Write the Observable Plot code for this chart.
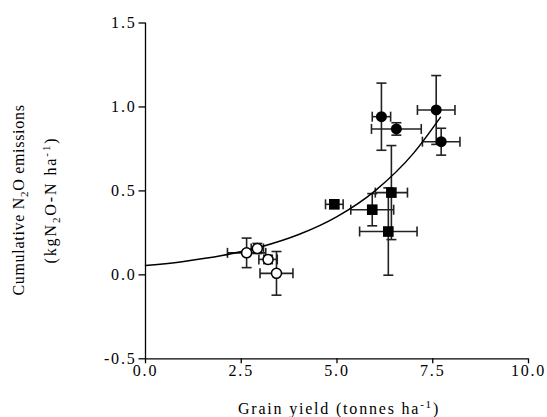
<!DOCTYPE html>
<html>
<head>
<meta charset="utf-8">
<script src="https://cdn.jsdelivr.net/npm/d3@7"></script>
<script src="https://cdn.jsdelivr.net/npm/@observablehq/plot@0.6"></script>
<style>
  html, body { margin: 0; padding: 0; background: white; }
</style>
</head>
<body>
<div id="chart"></div>
<script>
// Tick values
const xTicks = [0, 2.5, 5, 7.5, 10];
const yTicks = [-0.5, 0, 0.5, 1, 1.5];

// Open circles
const openX = [2.64, 2.92, 3.20, 3.42];
const openY = [0.131, 0.157, 0.092, 0.009];
const openXErr = [0.50, 0.16, 0.24, 0.43];
const openYErr = [0.088, 0.030, 0.025, 0.130];

// Filled squares
const sqX = [4.93, 5.92, 6.42, 6.34];
const sqY = [0.420, 0.388, 0.490, 0.258];
const sqXErr = [0.23, 0.56, 0.42, 0.75];
const sqYErr = [0.020, 0.096, 0.280, 0.260];

// Filled circles
const fcX = [6.16, 6.55, 7.59, 7.72];
const fcY = [0.942, 0.869, 0.982, 0.793];
const fcXErr = [0.24, 0.65, 0.49, 0.49];
const fcYErr = [0.200, 0.037, 0.205, 0.080];

// Fitted curve
const fitX = [0, 1, 2, 3, 4, 5, 6, 7, 7.7];
const fitY = [0.055, 0.080, 0.115, 0.166, 0.240, 0.347, 0.502, 0.725, 0.938];

const rows = (xs, ys, xe, ye) => xs.map((x, i) => ({x, y: ys[i], xe: xe[i], ye: ye[i]}));
const open = rows(openX, openY, openXErr, openYErr);
const sq = rows(sqX, sqY, sqXErr, sqYErr);
const fc = rows(fcX, fcY, fcXErr, fcYErr);
const all = [...open, ...sq, ...fc];
const fit = fitX.map((x, i) => ({x, y: fitY[i]}));

const hcap = {draw(ctx, size) { const r = Math.sqrt(size / Math.PI); ctx.moveTo(-r, 0); ctx.lineTo(r, 0); }};
const vcap = {draw(ctx, size) { const r = Math.sqrt(size / Math.PI); ctx.moveTo(0, -r); ctx.lineTo(0, r); }};

const errColor = "#222";
const errMarks = [
  Plot.link(all, {x1: d => d.x - d.xe, x2: d => d.x + d.xe, y1: "y", y2: "y", stroke: errColor, strokeWidth: 1.6}),
  Plot.link(all, {x1: "x", x2: "x", y1: d => d.y - d.ye, y2: d => d.y + d.ye, stroke: errColor, strokeWidth: 1.6}),
  Plot.dot(all, {x: d => d.x - d.xe, y: "y", symbol: vcap, r: 5, stroke: errColor, strokeWidth: 1.6}),
  Plot.dot(all, {x: d => d.x + d.xe, y: "y", symbol: vcap, r: 5, stroke: errColor, strokeWidth: 1.6}),
  Plot.dot(all, {x: "x", y: d => d.y - d.ye, symbol: hcap, r: 5, stroke: errColor, strokeWidth: 1.6}),
  Plot.dot(all, {x: "x", y: d => d.y + d.ye, symbol: hcap, r: 5, stroke: errColor, strokeWidth: 1.6})
];

const fmt = d => d.toFixed(1);
const fam = "Liberation Serif";

const svg = Plot.plot({
  width: 547,
  height: 417,
  marginLeft: 145,
  marginRight: 19,
  marginTop: 22.5,
  marginBottom: 58.7,
  x: {domain: [0, 10]},
  y: {domain: [-0.5, 1.5]},
  style: {fontFamily: fam, fontSize: "16px", letterSpacing: "1.8px", background: "white", color: "black"},
  marks: [
    Plot.axisX({ticks: xTicks, tickFormat: fmt, tickSize: 5, tickPadding: 1, label: null, fontSize: 16, fontFamily: fam, strokeWidth: 1.3}),
    Plot.axisY({ticks: yTicks, tickFormat: fmt, tickSize: 6.5, tickPadding: 2.5, label: null, fontSize: 16, fontFamily: fam, strokeWidth: 1.3}),
    Plot.ruleX([0], {strokeWidth: 1.3}),
    Plot.ruleY([-0.5], {strokeWidth: 1.3}),
    ...errMarks,
    Plot.line(fit, {x: "x", y: "y", curve: "monotone-x", stroke: "black", strokeWidth: 1.5}),
    Plot.dot(open, {x: "x", y: "y", r: 5, fill: "white", stroke: "black", strokeWidth: 1.5}),
    Plot.dot(sq, {x: "x", y: "y", symbol: "square", r: 6, fill: "black", stroke: "none"}),
    Plot.dot(fc, {x: "x", y: "y", r: 5.5, fill: "black", stroke: "none"})
  ]
});

const s = d3.select(svg);

function addParts(t, parts) {
  parts.forEach(p => {
    const ts = t.append("tspan").text(p.t);
    if (p.sub) ts.attr("dy", 4).attr("font-size", 11);
    else if (p.sup) ts.attr("dy", -6).attr("font-size", 11);
    if (p.back) ts.attr("dy", p.back);
  });
}

function label(transform, spacing, parts) {
  const t = s.append("text")
    .attr("transform", transform)
    .attr("text-anchor", "middle")
    .attr("font-family", fam).attr("font-size", 16).attr("fill", "black")
    .style("letter-spacing", spacing);
  addParts(t, parts);
}

label("translate(339,414)", "1.8px", [{t: "Grain yield (tonnes ha"}, {t: "-1", sup: true}, {t: ")", back: 6}]);
label("translate(24,200) rotate(-90)", "0.7px", [{t: "Cumulative N"}, {t: "2", sub: true}, {t: "O emissions", back: -4}]);
label("translate(56,200) rotate(-90)", "1.9px", [{t: "(kgN"}, {t: "2", sub: true}, {t: "O-N ha", back: -4}, {t: "-1", sup: true}, {t: ")", back: 6}]);

document.getElementById("chart").appendChild(svg);
</script>
</body>
</html>
